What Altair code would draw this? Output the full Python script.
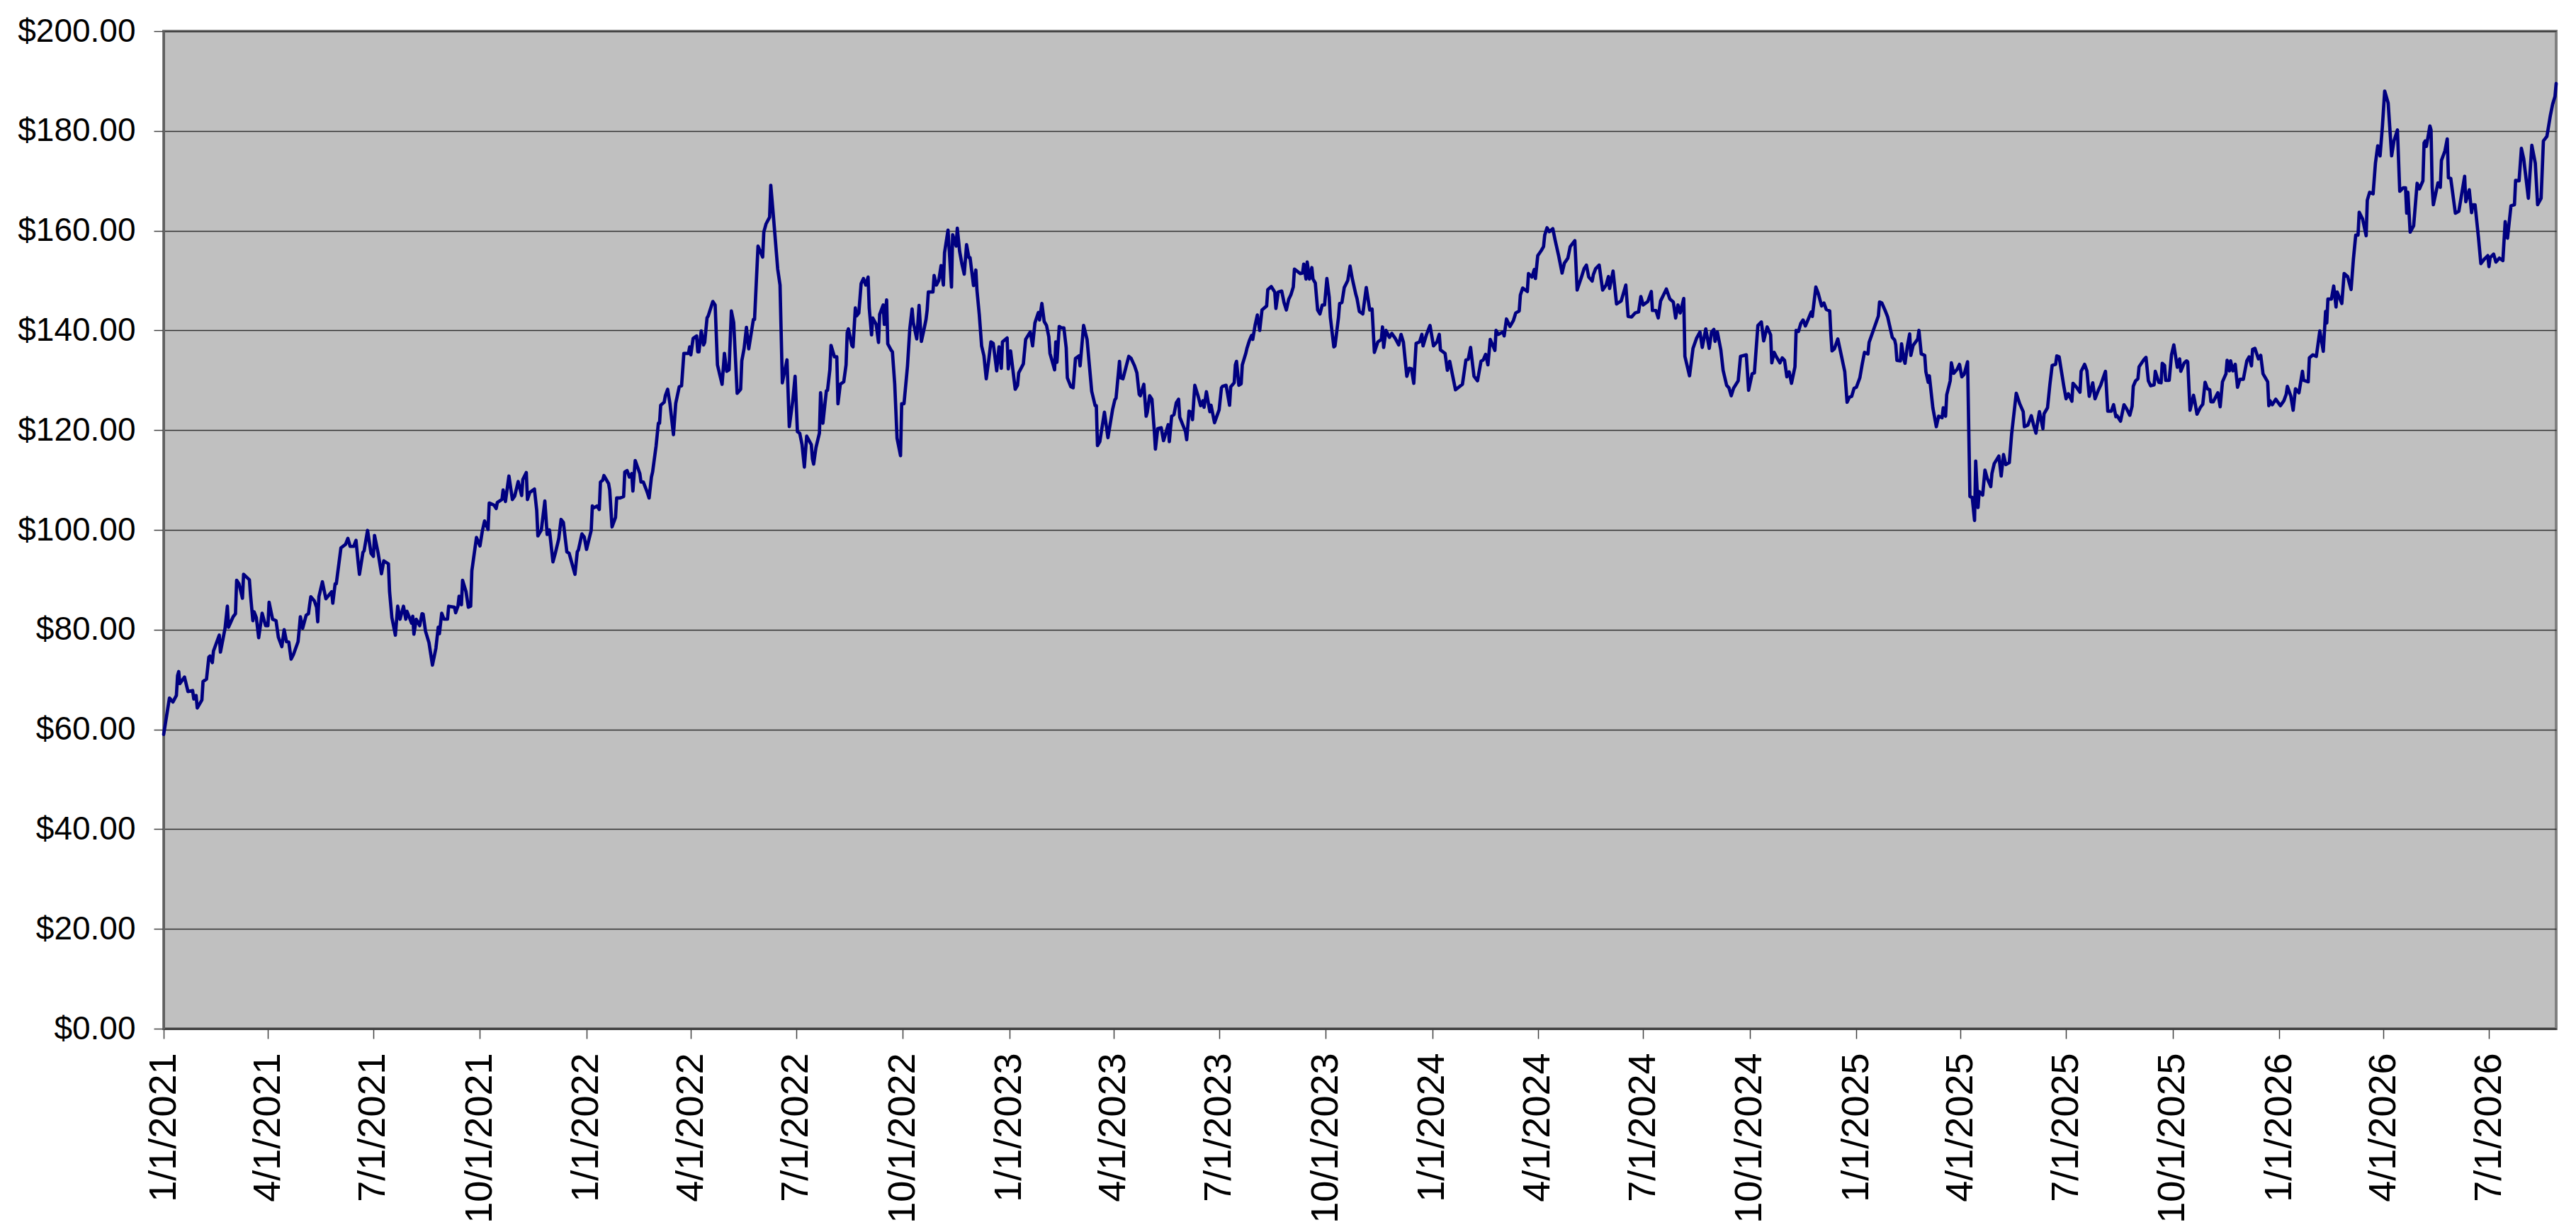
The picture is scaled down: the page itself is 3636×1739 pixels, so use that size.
import altair as alt
import pandas as pd

START = "2021-01-01"

# (days since 1/1/2021, price)
SEG_2021 = [(0,59.0),(5,66.3),(8,65.5),(11,66.8),(12,70.8),(13,71.6),(14,69.2),(18,70.5),(21,67.6),(25,67.8),(26,66.1),(28,66.8),(29,64.3),(33,65.9),(34,69.6),(37,70.1),(39,74.5),(40,74.7),(42,73.4),(43,75.7),(48,78.9),(49,75.5),(53,80.3),(55,84.7),(56,80.5),(60,82.6),(62,83.2),(63,89.9),(65,89.2),(68,86.3),(69,91.1),(74,90.0),(75,86.9),(77,81.8),(78,83.6),(80,82.4),(82,78.4),(85,83.3),(88,80.8),(90,80.8),(91,85.5),(94,82.1),(97,81.8),(99,78.5),(102,76.6),(104,80.0),(106,77.6),(108,77.5),(110,74.1),(112,75.0),(116,77.6),(117,80.0),(118,82.6),(120,80.3),(123,82.9),(125,83.2),(126,85.0),(127,86.6),(130,85.8),(132,84.5),(133,81.6),(134,86.6),(137,89.6),(140,86.2),(145,87.6),(146,85.3),(148,89.2),(149,89.2),(153,96.4),(157,97.1),(159,98.3),(161,96.7),(164,96.7),(166,97.9),(168,93.2),(169,91.1),(172,95.5),(173,95.8),(176,99.9),(179,95.3),(181,94.7),(182,98.9),(185,95.5),(188,91.2),(190,93.8),(194,93.2),(195,87.6),(197,82.4),(200,78.9),(202,84.7),(204,82.1),(207,84.7),(209,82.1),(210,83.7),(214,81.3),(215,82.7),(216,79.1),(218,82.1),(221,80.8),(223,83.2),(224,83.1),(226,79.7),(229,77.4),(232,72.9),(235,76.3),(237,80.5),(238,79.2),(240,83.3),(242,82.1),(245,82.1),(246,84.7),(251,84.5),(252,83.4),(254,84.7),(255,86.7),(257,85.0),(258,89.9),(261,87.6),(263,84.5),(265,84.7),(266,91.8),(270,98.5),(273,96.8),(275,99.7),(277,101.8),(280,100.1),(281,105.4),(285,105.0),(287,104.3),(288,105.5),(292,106.1),(293,108.0),(295,105.7),(298,110.8),(301,106.1),(303,106.8),(306,109.7),(309,106.9),(310,110.1),(313,111.5),(314,106.1),(316,107.5),(320,108.2),(322,103.9),(323,98.8),(326,100.0),(329,105.8),(331,99.1),(333,100.0),(336,93.6),(338,95.3),(341,98.2)]

SEG_2022 = [(343,102.1),(345,101.5),(348,95.6),(350,95.3),(355,91.1),(357,95.6),(358,96.0),(361,99.2),(363,98.6),(365,96.1),(369,99.9),(370,104.8),(371,104.4),(374,104.8),(376,104.1),(377,109.6),(379,110.0),(380,110.9),(384,109.3),(385,108.0),(387,100.6),(390,102.5),(391,106.4),(394,106.4),(397,106.7),(398,111.6),(400,111.9),(402,110.6),(404,111.3),(405,107.8),(407,113.9),(411,111.3),(412,109.6),(414,109.6),(417,107.8),(419,106.4),(421,110.6),(422,111.6),(425,116.8),(427,121.4),(428,121.4),(429,125.0),(432,125.6),(433,126.9),(435,128.2),(437,125.3),(440,119.1),(442,125.4),(445,128.7),(447,128.9),(449,135.4),(453,135.4),(454,136.7),(455,135.1),(457,138.4),(460,138.9),(461,135.7),(462,135.7),(464,139.9),(466,137.1),(467,137.6),(469,142.5),(470,142.9),(474,145.8),(476,145.1),(478,133.1),(480,131.1),(482,129.2),(484,135.4),(486,131.8),(488,132.1),(490,143.9),(492,141.6),(495,127.4),(498,128.2),(499,133.9),(501,136.4),(503,140.6),(505,136.3),(509,142.2),(510,142.2),(513,156.9),(517,154.7),(518,159.7),(520,161.4),(523,162.7),(524,169.1),(526,163.7),(530,152.3),(532,149.1),(534,129.5),(536,131.8),(538,134.1),(540,120.7),(543,125.9),(545,130.8),(547,119.7),(549,119.4),(551,117.1),(553,112.6),(555,118.8),(559,117.1),(560,114.2),(561,113.2),(563,116.5),(566,119.4),(567,127.5),(569,121.4),(572,127.9),(573,128.0),(575,132.1),(576,137.0),(579,134.7),(581,134.7),(582,125.3),(584,129.2),(587,129.7),(589,133.1),(590,139.6),(591,140.3),(594,137.0),(595,136.7),(597,144.5),(598,142.9),(600,143.5),(602,149.4),(604,150.4),(606,149.1),(608,150.7),(609,144.5),(611,139.1),(612,142.5),(615,141.2),(617,137.6),(618,143.2),(621,145.1),(622,141.2),(624,146.1),(625,137.3),(628,136.0),(629,135.7),(631,129.2),(633,118.4),(636,114.9),(637,125.3),(639,125.3),(642,132.8),(644,140.3),(646,144.3),(647,141.6),(650,138.3),(651,141.6),(652,145.0),(654,137.8),(656,139.9),(658,142.2),(659,144.1),(660,147.7),(664,147.7),(665,151.0),(667,149.1),(669,150.0),(671,153.0),(673,149.1),(674,155.6),(677,160.1),(680,148.7),(681,159.2),(684,156.9),(685,160.5),(687,155.9),(689,153.3)]

SEG_2023 = [(691,151.3),(693,157.2),(695,154.6),(696,154.6),(699,149.0),(701,152.1),(702,148.0),(704,143.1),(706,136.9),(708,134.9),(710,130.3),(712,133.8),(714,137.7),(716,137.4),(718,133.8),(719,131.9),(721,136.7),(723,132.4),(724,137.7),(728,138.5),(729,132.3),(731,135.9),(735,128.2),(737,129.0),(738,131.5),(742,133.3),(744,138.2),(748,139.7),(750,136.9),(752,141.5),(755,143.6),(756,142.1),(758,145.4),(760,141.8),(762,141.0),(764,138.7),(765,135.4),(769,132.1),(770,137.7),(771,133.6),(773,140.8),(775,140.5),(777,140.5),(779,136.5),(780,130.5),(783,128.7),(785,128.5),(787,134.4),(790,134.9),(791,132.9),(794,141.0),(797,138.2),(801,127.8),(804,124.9),(805,124.9),(806,116.9),(808,117.7),(812,123.6),(815,118.5),(819,124.1),(821,126.1),(822,126.4),(825,133.8),(826,130.5),(828,130.3),(833,134.8),(835,134.4),(838,132.9),(840,131.5),(842,127.2),(843,126.9),(846,129.2),(848,122.8),(849,123.6),(851,126.9),(853,126.2),(855,120.0),(856,116.2),(858,120.3),(861,120.5),(863,117.9),(867,121.1),(868,117.7),(870,122.8),(872,123.1),(874,125.5),(876,126.2),(877,122.6),(882,119.7),(883,118.1),(885,123.8),(887,123.6),(888,122.1),(890,129.0),(893,126.7),(895,124.9),(897,125.9),(898,124.6),(900,127.7),(903,123.7),(904,125.0),(907,121.5),(911,124.1),(913,128.5),(914,128.8),(917,129.0),(920,125.0),(921,128.7),(924,129.5),(925,133.1),(926,133.8),(928,129.0),(930,129.3),(931,133.1),(934,135.4),(935,136.4),(937,137.9),(939,139.0),(940,138.2),(942,141.0),(944,143.1),(946,140.0),(948,144.1),(952,144.9),(953,148.2),(956,148.8),(959,147.7),(960,144.4),(962,147.7),(965,147.9),(967,145.6),(969,144.1),(971,146.2),(973,147.2),(975,148.7),(976,152.3),(981,151.4),(983,151.5),(984,153.3),(986,150.3),(987,153.7),(989,150.3),(991,152.6),(992,150.3),(994,149.5),(996,144.1),(998,143.3),(1000,145.1),(1002,145.1),(1004,150.4),(1006,146.7),(1007,142.6),(1010,136.7),(1011,136.9),(1014,142.6),(1015,145.4),(1017,145.6),(1019,148.6),(1022,150.0),(1024,152.9),(1026,150.3),(1029,147.2),(1030,146.4),(1032,143.8),(1035,143.3),(1036,145.1),(1038,148.6),(1041,144.1)]

SEG_2024 = [(1043,144.3),(1045,135.6),(1048,137.7),(1051,138.2),(1052,140.7),(1053,136.6),(1055,140.0),(1058,138.6),(1060,139.4),(1063,138.4),(1066,137.1),(1068,139.2),(1070,137.7),(1073,130.8),(1075,132.4),(1077,132.3),(1079,129.4),(1081,137.4),(1084,137.7),(1086,139.2),(1087,136.9),(1090,139.2),(1093,141.0),(1096,136.9),(1099,137.7),(1101,139.2),(1102,136.1),(1106,135.4),(1108,132.0),(1110,133.8),(1115,128.1),(1121,129.2),(1124,134.1),(1126,134.2),(1128,136.6),(1130,132.7),(1131,130.8),(1134,129.9),(1137,133.8),(1139,134.1),(1141,135.2),(1143,133.1),(1145,138.2),(1147,137.1),(1149,136.0),(1150,140.0),(1152,139.2),(1156,139.7),(1157,138.9),(1159,142.3),(1162,140.8),(1165,142.0),(1167,143.5),(1170,143.9),(1171,147.1),(1173,148.5),(1177,147.8),(1178,151.4),(1181,150.7),(1183,152.2),(1184,150.4),(1186,155.0),(1189,156.0),(1191,156.8),(1192,159.1),(1194,160.6),(1196,159.8),(1199,160.4),(1201,158.1),(1204,155.0),(1207,151.5),(1209,153.5),(1212,154.5),(1214,156.8),(1218,158.0),(1220,148.1),(1224,150.9),(1226,152.4),(1228,153.1),(1230,150.7),(1233,149.9),(1234,151.2),(1236,152.4),(1239,153.1),(1242,148.1),(1245,149.1),(1247,150.8),(1248,148.4),(1251,151.9),(1254,145.3),(1258,145.9),(1262,149.1),(1264,142.8),(1267,142.7),(1270,143.5),(1273,143.7),(1275,146.8),(1277,145.1),(1281,145.8),(1284,147.8),(1285,144.0),(1288,144.0),(1290,142.5),(1292,145.9),(1297,148.3),(1300,146.3),(1303,145.7),(1305,142.5),(1307,145.1),(1309,143.5),(1312,146.4),(1313,134.8),(1317,130.9),(1320,136.4),(1323,138.4),(1326,139.7),(1328,136.6),(1331,140.3),(1334,136.4),(1336,139.7),(1338,140.2),(1339,137.8),(1341,139.7),(1344,136.1),(1346,132.0),(1349,129.0),(1351,128.5),(1353,126.9),(1355,128.4),(1359,129.9),(1361,134.8),(1366,135.1),(1368,128.0),(1371,131.3),(1373,131.5),(1376,141.0),(1379,141.7),(1381,137.9),(1384,140.7)]

SEG_2025 = [(1387,139.1),(1388,133.5),(1390,135.6),(1392,134.7),(1395,133.5),(1397,134.5),(1399,134.0),(1401,130.7),(1403,131.7),(1405,129.4),(1408,132.7),(1409,140.0),(1411,139.8),(1413,141.4),(1415,142.1),(1417,140.9),(1419,142.0),(1422,143.7),(1423,142.8),(1426,148.7),(1428,147.5),(1431,144.9),(1433,145.5),(1435,144.2),(1438,143.9),(1439,139.3),(1440,135.9),(1442,136.3),(1445,138.3),(1448,135.0),(1451,131.7),(1453,125.6),(1455,126.6),(1457,126.8),(1459,128.4),(1461,128.6),(1464,130.5),(1466,133.2),(1468,135.6),(1471,135.3),(1472,137.6),(1475,139.6),(1480,142.9),(1481,145.7),(1483,145.5),(1486,143.9),(1488,142.7),(1492,138.6),(1494,138.1),(1495,137.1),(1496,134.0),(1499,133.9),(1500,137.3),(1502,134.2),(1503,133.4),(1505,136.8),(1507,139.3),(1508,135.0),(1510,137.0),(1514,138.3),(1515,140.0),(1517,135.3),(1520,135.0),(1521,131.7),(1523,129.6),(1524,130.9),(1527,124.5),(1530,120.7),(1532,122.8),(1535,122.5),(1536,124.5),(1538,122.8),(1539,127.1),(1542,129.9),(1543,133.5),(1545,131.4),(1548,132.2),(1550,133.2),(1552,130.7),(1554,131.2),(1557,133.7),(1559,106.7),(1561,106.5),(1563,101.9),(1564,113.8),(1566,104.5),(1567,107.7),(1570,107.0),(1572,112.0),(1574,110.3),(1577,108.7),(1578,111.3),(1580,113.3),(1584,114.8),(1586,110.8),(1588,115.1),(1590,113.1),(1593,113.5),(1595,119.2),(1597,123.3),(1599,127.4),(1602,125.3),(1605,123.7),(1606,120.7),(1609,121.0),(1612,122.9),(1614,121.0),(1616,119.4),(1617,121.0),(1619,123.7),(1622,120.3),(1623,123.3),(1626,124.5),(1628,129.1),(1630,133.0),(1633,133.2),(1634,134.9),(1636,134.7),(1640,128.9),(1642,126.3),(1644,127.3),(1647,125.8),(1648,129.4),(1651,128.6),(1654,127.6),(1655,131.8),(1658,133.2),(1660,131.9),(1662,126.8),(1665,129.5),(1667,126.3),(1670,128.1),(1672,129.1),(1676,131.8),(1678,123.8),(1681,123.8),(1683,125.1),(1685,122.7),(1686,122.9),(1689,121.8),(1692,125.1),(1694,124.4),(1697,123.0),(1699,124.8),(1700,128.8),(1702,129.9),(1704,130.3),(1705,132.7),(1709,134.1),(1711,134.6),(1713,129.9),(1715,128.9),(1718,129.1),(1719,131.8),(1722,129.6),(1724,129.5),(1725,133.4),(1727,133.0)]

SEG_2026 = [(1728,130.0),(1731,130.0),(1733,135.1),(1735,137.1),(1738,132.6),(1740,134.3),(1741,131.8),(1744,133.5),(1746,133.9),(1747,133.7),(1749,124.0),(1752,127.0),(1753,125.9),(1755,123.2),(1758,124.6),(1760,125.2),(1762,129.6),(1764,128.3),(1766,128.1),(1767,125.7),(1769,125.7),(1773,127.5),(1775,124.7),(1777,129.7),(1780,131.3),(1781,134.0),(1783,131.9),(1784,133.9),(1786,131.9),(1788,133.2),(1790,128.6),(1792,130.2),(1795,130.2),(1798,133.9),(1800,134.7),(1802,132.9),(1803,136.2),(1805,136.4),(1808,134.3),(1810,135.0),(1812,131.3),(1816,129.7),(1817,124.9),(1818,125.9),(1820,125.1),(1823,126.2),(1827,124.9),(1830,125.9),(1832,127.2),(1833,128.8),(1836,126.8),(1838,124.0),(1840,128.3),(1843,127.5),(1846,131.8),(1847,130.0),(1851,129.7),(1852,134.5),(1855,135.1),(1858,134.8),(1861,139.9),(1864,135.8),(1866,143.8),(1867,141.5),(1868,146.3),(1871,146.3),(1873,148.9),(1875,144.7),(1876,147.7),(1880,145.4),(1882,151.4),(1885,150.8),(1888,148.2),(1890,154.3),(1892,159.1),(1894,159.1),(1895,163.7),(1898,162.3),(1901,159.0),(1902,166.1),(1904,167.7),(1907,167.4),(1909,173.5),(1911,177.0),(1913,175.0),(1915,180.8),(1917,188.0),(1920,185.6),(1923,175.0),(1925,178.0),(1928,180.2),(1930,167.9),(1933,168.6),(1935,168.6),(1936,163.5),(1937,167.7),(1939,159.7),(1942,161.0),(1945,169.5),(1947,168.4),(1950,170.0),(1951,177.6),(1952,178.0),(1953,176.9),(1956,181.0),(1957,180.2),(1958,168.7),(1959,165.2),(1963,169.6),(1965,168.7),(1966,174.1),(1969,176.0),(1971,178.4),(1972,170.6),(1974,170.5),(1978,163.5),(1981,163.9),(1986,170.9),(1987,165.8),(1990,168.2),(1992,163.6),(1993,165.2),(1995,165.2),(1998,158.5),(2000,153.4),(2003,154.3),(2006,155.0),(2007,152.8),(2008,154.6),(2011,155.3),(2013,153.7),(2016,154.5),(2019,154.0),(2021,161.8),(2023,158.5),(2026,165.0),(2029,165.2),(2030,170.1),(2033,170.0),(2035,176.5),(2037,174.4),(2041,166.5),(2044,177.1),(2047,173.5),(2049,165.2),(2052,166.5),(2054,178.0),(2057,178.9),(2060,183.1),(2062,185.4),(2064,186.9),(2065,189.5)]

# quarterly axis ticks (year, month) and y ticks
X_TICKS = [(2021,1),(2021,4),(2021,7),(2021,10),(2022,1),(2022,4),(2022,7),(2022,10),
           (2023,1),(2023,4),(2023,7),(2023,10),(2024,1),(2024,4),(2024,7),(2024,10),
           (2025,1),(2025,4),(2025,7),(2025,10),(2026,1),(2026,4),(2026,7)]
Y_TICKS = [0, 20, 40, 60, 80, 100, 120, 140, 160, 180, 200]
X_END = (2026, 8, 28)

rows = SEG_2021 + SEG_2022 + SEG_2023 + SEG_2024 + SEG_2025 + SEG_2026
df = pd.DataFrame(rows, columns=["day", "price"])
df["date"] = (pd.Timestamp(START) + pd.to_timedelta(df["day"], unit="D")).dt.strftime("%Y-%m-%dT00:00:00")

tick_values = [alt.DateTime(year=y, month=m, date=1) for y, m in X_TICKS]
x_domain = [alt.DateTime(year=2021, month=1, date=1),
            alt.DateTime(year=X_END[0], month=X_END[1], date=X_END[2])]

FONT = "Liberation Sans"

chart = alt.Chart(df).mark_line(
    color="#000080", strokeWidth=4.7, strokeJoin="round", strokeCap="round"
).encode(
    x=alt.X("date:T", title=None,
            scale=alt.Scale(domain=x_domain, nice=False),
            axis=alt.Axis(values=tick_values, format="%-m/%-d/%Y", labelAngle=270,
                          grid=False, tickSize=14, labelPadding=20,
                          labelFontSize=54, labelLimit=0,
                          labelFlush=False, labelOverlap=False, labelBound=False,
                          domainColor="#404040", domainWidth=3)),
    y=alt.Y("price:Q", title=None,
            scale=alt.Scale(domain=[0, 200], nice=False, zero=True),
            axis=alt.Axis(values=Y_TICKS, format="$.2f", grid=True,
                          tickSize=14, labelPadding=26, labelFontSize=46,
                          domainColor="#606060", domainWidth=3)),
).properties(
    width=3377,
    height=1408,
    autosize=alt.AutoSizeParams(type="none"),
    padding={"left": 223, "top": 36, "right": 20, "bottom": 280},
    background="white",
).configure_view(
    fill="#C0C0C0", stroke="#808080", strokeWidth=4
).configure_axis(
    labelFont=FONT, labelColor="#000000",
    tickColor="#404040", tickWidth=1.5,
    gridColor="#303030", gridWidth=1.3, gridOpacity=1,
)

chart.save("out.html", embed_options={"renderer": "svg", "actions": False})
